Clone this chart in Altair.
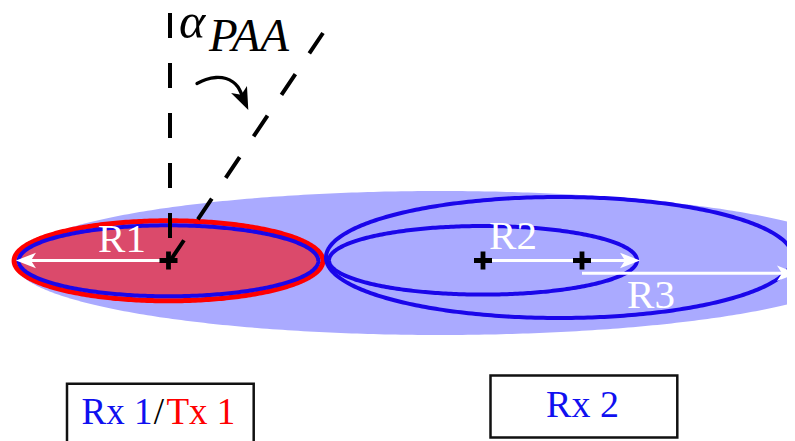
import altair as alt
import pandas as pd
import numpy as np

# ---------------- canvas (page pixels; the page has an 8px margin) ----------------
W, H = 779, 433
X0, Y0 = 8, 8

# ---------------- ellipses (centre, semi-axes) ----------------
FILL_NAMES = ["beam", "tx1"]
FILL_CX = [440, 168.5]
FILL_CY = [263, 260.8]
FILL_RX = [425, 150]
FILL_RY = [72, 36]
FILL_COLORS = ["#aaaaff", "#db4a6b"]

LINE_NAMES = ["tx1_red", "rx1_blue", "r3", "r2"]
LINE_CX = [168.5, 168.5, 559.5, 483]
LINE_CY = [260.8, 260.8, 257.5, 260.3]
LINE_RX = [154.4, 149.8, 233.5, 154]
LINE_RY = [40, 35.5, 60.5, 34.3]
LINE_COLORS = ["#ff0000", "#1a06ea", "#1a06ea", "#1a06ea"]
LINE_WIDTHS = [5, 4, 4, 4]

# ---------------- radius arrows (white) ----------------
ARROW_LABELS = ["R1", "R2", "R3"]
ARROW_X1 = [168, 483, 582]
ARROW_X2 = [16, 640, 797]
ARROW_Y = [260.5, 260.5, 273.3]

# radius labels
RLAB_X = [122, 513, 651]
RLAB_Y = [252, 248.5, 308]

# ---------------- centres (+) ----------------
CROSS_X = [168.5, 483, 582]
CROSS_Y = [260.5, 260.5, 260.5]

# ---------------- dashed direction lines ----------------
DASH_X1 = [170, 170]
DASH_Y1 = [13, 261]
DASH_X2 = [170, 323]
DASH_Y2 = [262, 33]

# ---------------- curved rotation arrow ----------------
CURVE_X = [197, 206, 216, 226, 233, 238, 242]
CURVE_Y = [83.5, 79.5, 77.5, 78.5, 82, 87, 95]
CURVE_TIP = (248.3, 110.0)
CURVE_ANGLE = 65.6

# ---------------- boxes ----------------
BOX_X1 = [67, 490.5]
BOX_X2 = [253.7, 677.3]
BOX_Y1 = [383.8, 375.5]
BOX_Y2 = [470, 437.5]

xs = alt.Scale(domain=[X0, X0 + W], zero=False, nice=False)
ys = alt.Scale(domain=[Y0 + H, Y0], zero=False, nice=False)


def X(f):
    return alt.X(f, type="quantitative", scale=xs, axis=None)


def Y(f):
    return alt.Y(f, type="quantitative", scale=ys, axis=None)


layers = []

# filled ellipses
for name, cx, cy, rx, ry, col in zip(FILL_NAMES, FILL_CX, FILL_CY, FILL_RX, FILL_RY, FILL_COLORS):
    t = np.linspace(0, np.pi, 241)
    df = pd.DataFrame({"x": cx + rx * np.cos(t), "yt": cy - ry * np.sin(t), "yb": cy + ry * np.sin(t)})
    layers.append(
        alt.Chart(df).mark_area(color=col, opacity=1, clip=True).encode(
            x=X("x"), y=Y("yt"), y2="yb"
        )
    )

# ellipse outlines
for name, cx, cy, rx, ry, col, sw in zip(LINE_NAMES, LINE_CX, LINE_CY, LINE_RX, LINE_RY, LINE_COLORS, LINE_WIDTHS):
    t = np.linspace(0, 2 * np.pi, 361)
    df = pd.DataFrame({"x": cx + rx * np.cos(t), "y": cy - ry * np.sin(t), "o": np.arange(len(t))})
    layers.append(
        alt.Chart(df).mark_line(color=col, strokeWidth=sw, strokeCap="round", strokeJoin="round", clip=True).encode(
            x=X("x"), y=Y("y"), order="o:Q"
        )
    )

# dashed lines
dash_df = pd.DataFrame({"x": DASH_X1, "y": DASH_Y1, "x2": DASH_X2, "y2": DASH_Y2})
layers.append(
    alt.Chart(dash_df).mark_rule(color="black", strokeWidth=4, strokeDash=[25, 25], clip=True).encode(
        x=X("x"), y=Y("y"), x2="x2", y2="y2"
    )
)

# white radius arrows
HEAD_U = 11.1  # px per path unit (head length = 1.8 units)
ang = [180 if b < a else 0 for a, b in zip(ARROW_X1, ARROW_X2)]
shaft_end = [b + (HEAD_U * 1.2 if b < a else -HEAD_U * 1.2) for a, b in zip(ARROW_X1, ARROW_X2)]
head_pos = [b + (HEAD_U if b < a else -HEAD_U) for a, b in zip(ARROW_X1, ARROW_X2)]
arr_df = pd.DataFrame({"x": ARROW_X1, "x2": shaft_end, "y": ARROW_Y, "hx": head_pos, "ang": ang})
layers.append(
    alt.Chart(arr_df).mark_rule(color="white", strokeWidth=3, clip=True).encode(
        x=X("x"), x2="x2", y=Y("y")
    )
)
STEALTH = "M1,0L-0.8,-0.7L-0.35,0L-0.8,0.7Z"
layers.append(
    alt.Chart(arr_df).mark_point(shape=STEALTH, filled=True, color="white", opacity=1, size=(2 * HEAD_U) ** 2, clip=True).encode(
        x=X("hx"), y=Y("y"), angle=alt.Angle("ang:Q", scale=None)
    )
)

# centre crosses
cross_df = pd.DataFrame({"x": CROSS_X, "y": CROSS_Y})
layers.append(
    alt.Chart(cross_df).mark_point(shape="M-1,0L1,0M0,-1L0,1", filled=False, color="black", opacity=1,
                                   strokeWidth=4.8, size=18 ** 2, clip=True).encode(x=X("x"), y=Y("y"))
)

# curved arrow
curve_df = pd.DataFrame({"x": CURVE_X, "y": CURVE_Y, "o": range(len(CURVE_X))})
layers.append(
    alt.Chart(curve_df).mark_line(color="black", strokeWidth=3.3, interpolate="natural", strokeCap="round", clip=True).encode(
        x=X("x"), y=Y("y"), order="o:Q"
    )
)
CU = 12.5
ca = np.deg2rad(CURVE_ANGLE)
chead_df = pd.DataFrame({"x": [CURVE_TIP[0] - CU * np.cos(ca)], "y": [CURVE_TIP[1] - CU * np.sin(ca)], "ang": [CURVE_ANGLE]})
layers.append(
    alt.Chart(chead_df).mark_point(shape=STEALTH, filled=True, color="black", opacity=1, size=(2 * CU) ** 2, clip=True).encode(
        x=X("x"), y=Y("y"), angle=alt.Angle("ang:Q", scale=None)
    )
)

# boxes
box_df = pd.DataFrame({"x": BOX_X1, "x2": BOX_X2, "y": BOX_Y1, "y2": BOX_Y2})
layers.append(
    alt.Chart(box_df).mark_rect(fill="white", stroke="#111111", strokeWidth=2.5, clip=True).encode(
        x=X("x"), x2="x2", y=Y("y"), y2="y2"
    )
)

# texts
FONT = "Liberation Serif"


def text_layer(txt, x, y, size, color, align="center", style="normal"):
    df = pd.DataFrame({"x": [x], "y": [y], "t": [txt]})
    return alt.Chart(df).mark_text(
        font=FONT, fontSize=size, color=color, align=align, baseline="alphabetic", fontStyle=style
    ).encode(x=X("x"), y=Y("y"), text="t:N")


for lab, x, y in zip(ARROW_LABELS, RLAB_X, RLAB_Y):
    layers.append(text_layer(lab, x, y, 41, "white"))

layers.append(text_layer("α", 179, 38, 50, "black", align="left", style="italic"))
layers.append(text_layer("PAA", 209, 51, 47, "black", align="left", style="italic"))

layers.append(text_layer("Rx 1", 152.5, 423.5, 37, "#1010f0", align="right"))
layers.append(text_layer("/", 159, 423.5, 37, "black"))
layers.append(text_layer("Tx 1", 166.5, 423.5, 37, "#ff0000", align="left"))
layers.append(text_layer("Rx 2", 582.5, 417, 38, "#1010f0"))

chart = (
    alt.layer(*layers)
    .properties(width=W, height=H, padding=0, autosize=alt.AutoSizeParams(type="none"))
    .configure_view(strokeWidth=0)
)

chart.save("out.html", embed_options={"renderer": "svg", "actions": False})
